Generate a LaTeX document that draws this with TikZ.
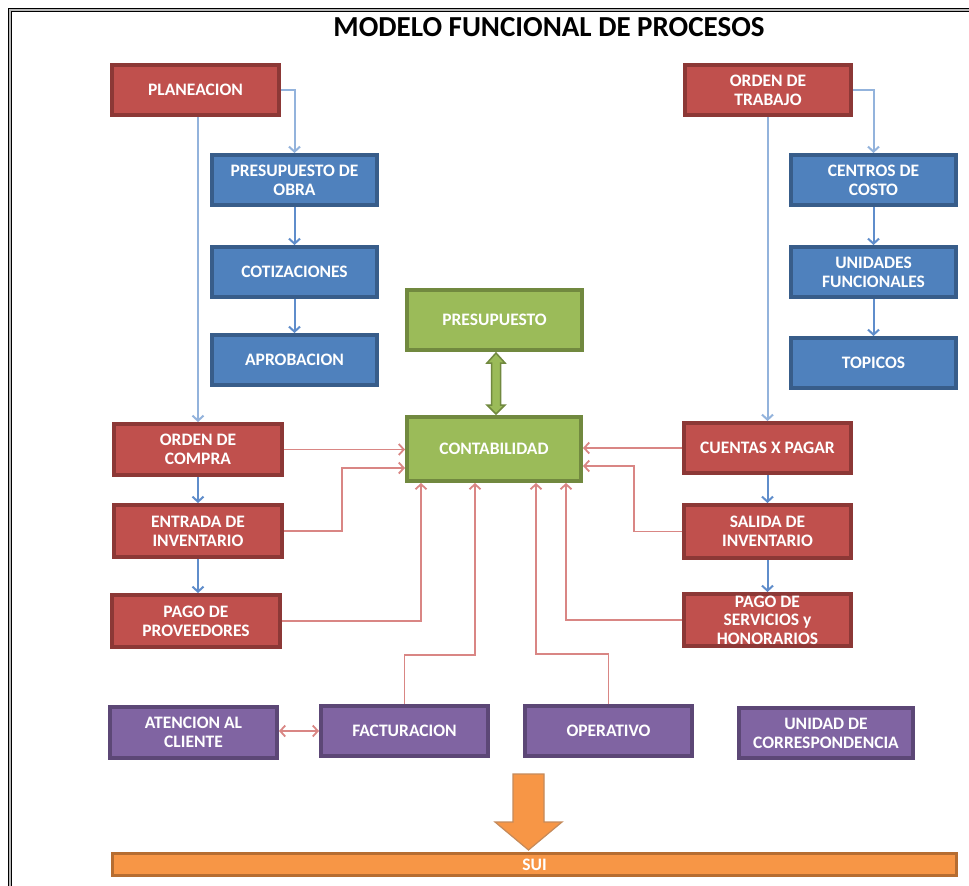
\documentclass[tikz,border=0pt]{standalone}
\usepackage{fontspec}
\setmainfont{Carlito}
\usetikzlibrary{arrows.meta,calc}
\definecolor{redF}{HTML}{C0504D}
\definecolor{redD}{HTML}{8C3836}
\definecolor{bluF}{HTML}{4F81BD}
\definecolor{bluD}{HTML}{385D8A}
\definecolor{grnF}{HTML}{9BBB59}
\definecolor{grnD}{HTML}{71893F}
\definecolor{purF}{HTML}{8064A2}
\definecolor{purD}{HTML}{5C4776}
\definecolor{orgF}{HTML}{F79646}
\definecolor{orgD}{HTML}{B66D31}
\definecolor{lnRed}{HTML}{D98684}
\definecolor{lnBlue}{HTML}{5F8DCB}
\definecolor{lnBlueL}{HTML}{93B3DC}
\begin{document}
\begin{tikzpicture}[x=1pt,y=-1pt,
  box/.style={draw, line width=4pt, inner sep=0pt, align=center, text=white,
    font=\bfseries\fontsize{17.5}{19}\selectfont, minimum width=166pt, minimum height=50pt},
  rbox/.style={box, fill=redF, draw=redD},
  bbox/.style={box, fill=bluF, draw=bluD},
  gbox/.style={box, fill=grnF, draw=grnD},
  pbox/.style={box, fill=purF, draw=purD},
  blink/.style={draw=lnBlue, line width=2pt, -{Straight Barb[length=5pt,width=11pt]}},
  blinkL/.style={blink, draw=lnBlueL},
  rlink/.style={draw=lnRed, line width=1.8pt, -{Straight Barb[length=5pt,width=11pt]}},
  rlink2/.style={draw=lnRed, line width=1.8pt, {Straight Barb[length=5pt,width=11pt]}-{Straight Barb[length=5pt,width=11pt]}}
]
\useasboundingbox (0,0) rectangle (969,886);
\fill[white] (0,0) rectangle (969,886);
% frame
\draw[gray!55, line width=3pt] (10,886) -- (10,10) -- (969,10);
\draw[black, line width=1pt] (8.5,886) -- (8.5,8.5) -- (969,8.5);
\draw[black, line width=1pt] (11.5,886) -- (11.5,11.5) -- (969,11.5);

\node[font=\bfseries\fontsize{29}{32}\selectfont] (title) at (549,27) {MODELO FUNCIONAL DE PROCESOS};

% left top
\node[rbox, minimum width=167pt] (plan) at (195.5,90) {PLANEACION};
\node[bbox, minimum width=165pt] (obra) at (294.5,180) {PRESUPUESTO DE\\OBRA};
\node[bbox, minimum width=165pt] (coti) at (294.5,272) {COTIZACIONES};
\node[bbox, minimum width=165pt] (aprob) at (294.5,360) {APROBACION};
% right top
\node[rbox] (otrab) at (768,90) {ORDEN DE\\TRABAJO};
\node[bbox, minimum width=165pt] (ccosto) at (873.5,180) {CENTROS DE\\COSTO};
\node[bbox, minimum width=165pt] (unid) at (873.5,272) {UNIDADES\\FUNCIONALES};
\node[bbox, minimum width=165pt] (topicos) at (873.5,363) {TOPICOS};
% green
\node[gbox, minimum width=175pt, minimum height=60pt] (presup) at (494.5,320) {PRESUPUESTO};
\node[gbox, minimum width=174pt, minimum height=64pt] (conta) at (494,449) {CONTABILIDAD};
% left red column
\node[rbox, minimum width=168pt, minimum height=51pt] (ocompra) at (198,449.5) {ORDEN DE\\COMPRA};
\node[rbox, minimum width=168pt, minimum height=52pt] (entrada) at (198,531) {ENTRADA DE\\INVENTARIO};
\node[rbox, minimum width=168pt, minimum height=52pt] (pagoprov) at (196,621) {PAGO DE\\PROVEEDORES};
% right red column
\node[rbox, minimum width=167pt] (cxp) at (767.5,448) {CUENTAS X PAGAR};
\node[rbox, minimum width=167pt, minimum height=53pt] (salida) at (767.5,531.5) {SALIDA DE\\INVENTARIO};
\node[rbox, minimum width=167pt, minimum height=52pt, font=\bfseries\fontsize{17.5}{18.5}\selectfont] (pagoserv) at (767.5,620) {PAGO DE\\SERVICIOS y\\HONORARIOS};
% purple
\node[pbox, minimum width=167pt, minimum height=51pt] (atencion) at (193.5,732.5) {ATENCION AL\\CLIENTE};
\node[pbox, minimum width=167pt] (factur) at (404.5,731) {FACTURACION};
\node[pbox, minimum width=167pt] (operativo) at (608.5,731) {OPERATIVO};
\node[pbox, minimum width=174pt] (unidcorr) at (826,733) {UNIDAD DE\\CORRESPONDENCIA};
% SUI
\node[box, fill=orgF, draw=orgD, line width=3pt, minimum width=844pt, minimum height=22pt] (sui) at (534.5,864.5) {SUI};

% blue connectors
\draw[blinkL] (plan.east) -| (obra.north);
\draw[blink] (obra.south) -- (coti.north);
\draw[blink] (coti.south) -- (aprob.north);
\draw[blinkL] (ocompra.north |- plan.south) -- (ocompra.north);
\draw[blink] (ocompra.south) -- (ocompra.south |- entrada.north);
\draw[blink] (ocompra.south |- entrada.south) -- (ocompra.south |- pagoprov.north);
\draw[blinkL] (otrab.east) -| (ccosto.north);
\draw[blink] (ccosto.south) -- (unid.north);
\draw[blink] (unid.south) -- (topicos.north);
\draw[blinkL] (otrab.south -| cxp.north) -- (cxp.north);
\draw[blink] (cxp.south) -- (salida.north);
\draw[blink] (salida.south) -- (pagoserv.north);

% green double arrow between PRESUPUESTO and CONTABILIDAD
\filldraw[fill=grnF, draw=grnD, line width=1.5pt]
  (496,353) -- (505,363) -- (500.5,363) -- (500.5,405) -- (505,405) -- (496,414)
  -- (487,405) -- (491.5,405) -- (491.5,363) -- (487,363) -- cycle;

% red connectors into CONTABILIDAD
\draw[rlink] (ocompra.east) -- (ocompra.east -| conta.west);
\draw[rlink] (entrada.east) -- ++(58,0) |- ($(conta.west)+(0,19)$);
\draw[rlink] (pagoprov.east) -| ($(conta.south west)+(16,0)$);
\draw[rlink] (factur.north) -- ++(0,-49) -| ($(conta.south west)+(70,0)$);
\draw[rlink] (operativo.north) -- ++(0,-50) -| ($(conta.south west)+(131,0)$);
\draw[rlink] (pagoserv.west) -| ($(conta.south west)+(161,0)$);
\draw[rlink] (salida.west) -- ++(-48,0) |- ($(conta.east)+(0,17)$);
\draw[rlink] (cxp.west) -- (cxp.west -| conta.east);
\draw[rlink2] (atencion.east |- factur.west) -- (factur.west);

% orange arrow to SUI
\filldraw[fill=orgF, draw=orgD!80, line width=1.2pt]
  (513,774) -- (544,774) -- (544,822) -- (562,822) -- (528.5,850) -- (495,822)
  -- (513,822) -- cycle;
\end{tikzpicture}
\end{document}
